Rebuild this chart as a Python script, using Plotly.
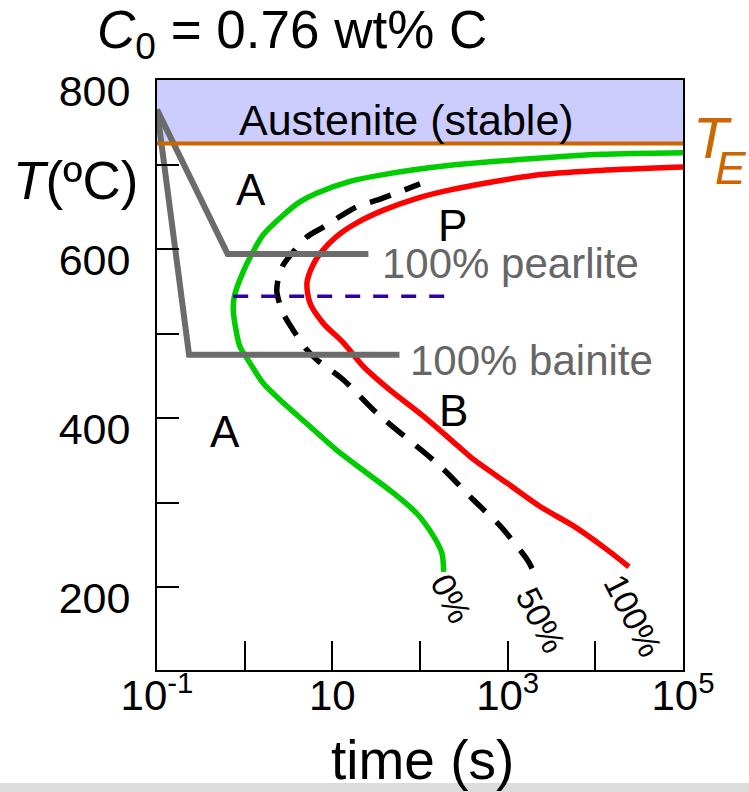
import plotly.graph_objects as go

# Isothermal transformation (TTT) diagram for a eutectoid steel
time_0pct = [186, 178, 143, 92, 50, 24.7, 11.2, 5.56, 2.75, 1.63, 1.15, 0.88, 0.79, 0.74,
             0.77, 0.96, 1.25, 1.63, 2.75, 4.3, 6.6, 15.9, 38, 221, 1970, 11450, 100000]
temp_0pct = [218, 240, 260, 287, 311, 335, 362, 390, 418, 441, 465, 485, 506, 530,
             546, 573, 597, 617, 640, 656, 666, 680, 688, 699, 707, 712, 714]

time_50pct = [1900, 1680, 826, 408, 170, 32.1, 13.4, 6.64, 5.09, 3.58, 2.75, 2.33,
              2.42, 2.75, 3.42, 5.09, 7.89, 11.2, 19, 35.1, 59.4, 100]
temp_50pct = [222, 232, 272, 303, 343, 406, 445, 469, 481, 504, 524, 549,
              565, 581, 594, 614, 626, 636, 650, 659, 668, 677]

time_100pct = [24150, 13680, 5680, 2366, 984, 408, 264, 110, 45.6, 22.6, 13.4, 7.89, 5.56,
               5.14, 6.07, 7.57, 11.2, 19, 38.3, 92, 221, 1970, 11450, 100000]
temp_100pct = [224, 244, 272, 295, 323, 351, 368, 402, 433, 461, 489, 512, 536,
               560, 582, 597, 615, 631, 646, 660, 670, 687, 693, 697]

# cooling / holding paths
path_pearlite_t = [0.1, 0.64, 25.8]
path_pearlite_T = [765, 594, 594]
path_bainite_t = [0.1, 0.232, 58.3]
path_bainite_T = [765, 475, 475]

# nose temperature marker
nose_t = [0.74, 194]
nose_T = [544, 544]

T_EUTECTOID = 725
T_MIN, T_MAX = 101.8, 800

x_tickvals = [0.1, 10, 1000, 100000]
x_ticktext = ["10<sup>-1</sup>", "10", "10<sup>3</sup>", "10<sup>5</sup>"]
x_minor = [1, 100, 10000]
y_tickvals = [200, 400, 600, 800]
y_ticktext = ["200", "400", "600", "800"]
y_minor = [300, 500, 700]

W, H = 749, 792
ML, MR, MT, MB = 157, 66, 80, 122
FONT = "Liberation Sans, Arial, sans-serif"


def fx(p):
    return (p - ML) / (W - ML - MR)


def fy(p):
    return (H - MB - p) / (H - MT - MB)


fig = go.Figure()

fig.add_trace(go.Scatter(x=time_0pct, y=temp_0pct, mode="lines",
                         line=dict(color="#00cc00", width=5.5, shape="spline", smoothing=0.8)))
fig.add_trace(go.Scatter(x=time_50pct, y=temp_50pct, mode="lines",
                         line=dict(color="black", width=5.5, dash="22px,15px",
                                   shape="spline", smoothing=0.8)))
fig.add_trace(go.Scatter(x=time_100pct, y=temp_100pct, mode="lines",
                         line=dict(color="#ff0000", width=5.5, shape="spline", smoothing=0.8)))
fig.add_trace(go.Scatter(x=nose_t, y=nose_T, mode="lines",
                         line=dict(color="#3300a0", width=3.5, dash="15px,13px")))
fig.add_trace(go.Scatter(x=path_pearlite_t, y=path_pearlite_T, mode="lines",
                         line=dict(color="#6b6b6b", width=6)))
fig.add_trace(go.Scatter(x=path_bainite_t, y=path_bainite_T, mode="lines",
                         line=dict(color="#6b6b6b", width=6)))

# stable austenite band above the eutectoid temperature
fig.add_shape(type="rect", xref="paper", yref="y", x0=0, x1=1, y0=T_EUTECTOID, y1=T_MAX,
              fillcolor="#ccccff", line_width=0, layer="below")
fig.add_shape(type="line", xref="paper", yref="y", x0=0, x1=1,
              y0=T_EUTECTOID, y1=T_EUTECTOID, line=dict(color="#cc6600", width=4))
# grey strip along the bottom of the page
fig.add_shape(type="rect", xref="paper", yref="paper", x0=fx(0), x1=fx(W),
              y0=fy(H + 5), y1=fy(783), fillcolor="#dcdcdc", line_width=0, layer="below")


def label(text, x, y, size, color="black", xanchor="center", angle=0):
    fig.add_annotation(text=text, xref="paper", yref="paper", x=fx(x), y=fy(y),
                       xanchor=xanchor, yanchor="middle", showarrow=False,
                       textangle=angle, font=dict(family=FONT, size=size, color=color))


label("<i>C</i><sub>0</sub> = 0.76 wt% C", 292, 34, 53)
label("<i>T</i>(ºC)", 75, 180, 53)
label("time (s)", 422, 760, 55)
label("Austenite (stable)", 406, 120, 43)
# eutectoid temperature symbol, T with a large subscript E
label("<i>T</i>", 691, 137, 58, color="#cc6600", xanchor="left")
label("<i>E</i>", 713, 168, 46, color="#cc6600", xanchor="left")
label("A", 251, 189, 44)
label("A", 225, 432, 44)
label("P", 452, 225, 44)
label("B", 453, 411, 44)
label("100% pearlite", 380, 263, 42, color="#666666", xanchor="left")
label("100% bainite", 408, 360, 42, color="#666666", xanchor="left")
label("0%", 451, 598, 34, angle=63)
label("50%", 541, 620, 34, angle=63)
label("100%", 633, 615, 34, angle=63)

tick_style = dict(tickcolor="black", tickwidth=2, ticks="inside")

fig.update_layout(
    width=W, height=H,
    margin=dict(l=ML, r=MR, t=MT, b=MB, pad=0),
    paper_bgcolor="white", plot_bgcolor="white",
    showlegend=False,
    font=dict(family=FONT, color="black"),
    xaxis=dict(type="log", range=[-1, 5], tickvals=x_tickvals, ticktext=x_ticktext,
               ticklen=29, **tick_style,
               minor=dict(tickmode="array", tickvals=x_minor, ticklen=29, **tick_style),
               showline=True, linecolor="black", linewidth=2, mirror=True,
               showgrid=False, zeroline=False, ticklabelstandoff=-12,
               tickfont=dict(size=42, family=FONT)),
    yaxis=dict(range=[T_MIN, T_MAX], tickvals=y_tickvals, ticktext=y_ticktext,
               ticklen=22, **tick_style,
               minor=dict(tickmode="array", tickvals=y_minor, ticklen=22, **tick_style),
               showline=True, linecolor="black", linewidth=2, mirror=True,
               showgrid=False, zeroline=False, ticklabelshift=11, ticklabelstandoff=16,
               tickfont=dict(size=43, family=FONT)),
)

fig.write_html("out.html")
